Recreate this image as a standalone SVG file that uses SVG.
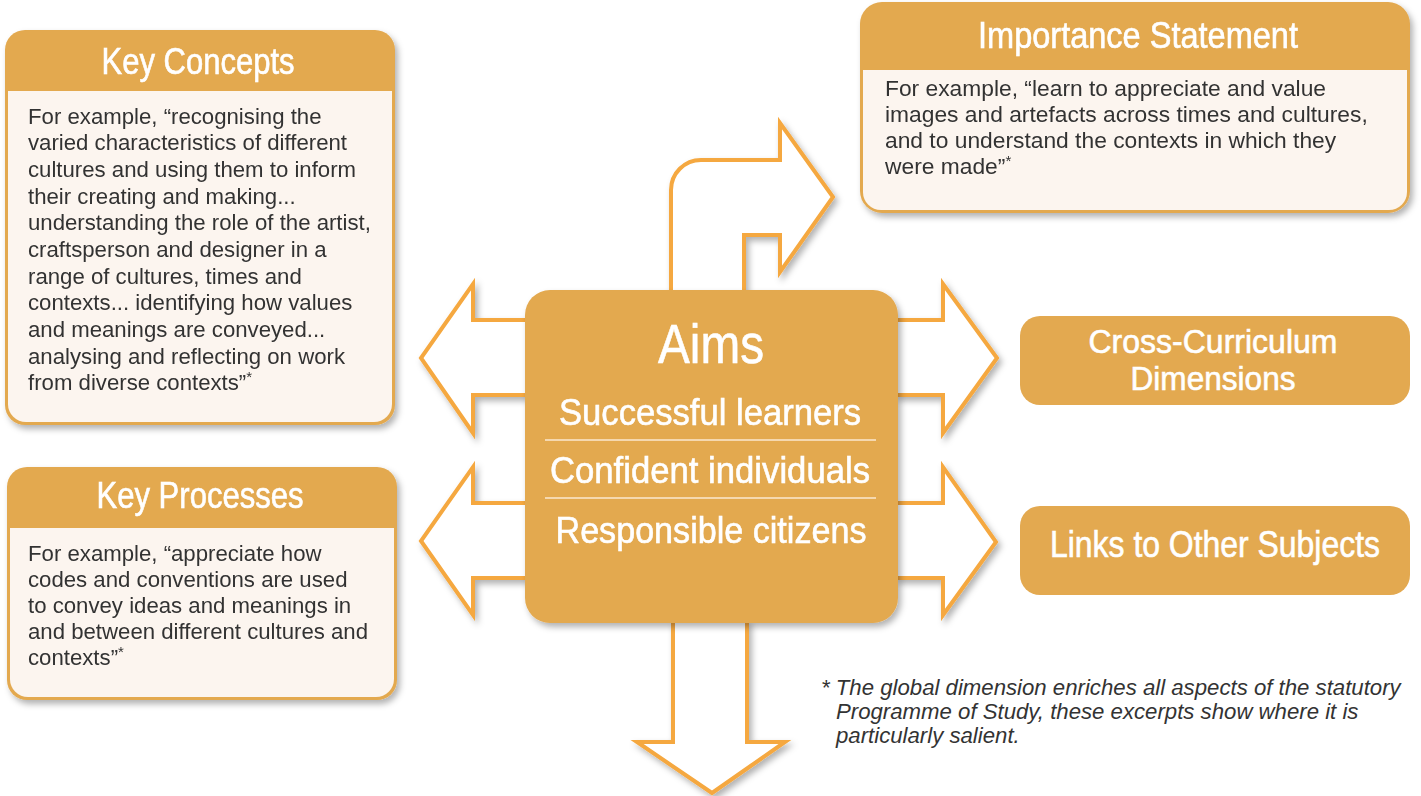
<svg xmlns="http://www.w3.org/2000/svg" width="1421" height="796" viewBox="0 0 1421 796">
  <defs>
    <filter id="shadow" x="-20%" y="-20%" width="140%" height="140%">
      <feDropShadow dx="3" dy="4" stdDeviation="3" flood-color="#000" flood-opacity="0.3"/>
    </filter>
    <style>
      .hdr { fill: #e3a950; }
      .body { fill: #fcf5ef; }
      .arrow { fill: #ffffff; stroke: #f5a83f; stroke-width: 4; stroke-linejoin: miter; }
      .title { font-family: "Liberation Sans", Arial, sans-serif; fill: #ffffff; stroke: #ffffff; stroke-width: 0.6; text-anchor: middle; }
      .txt { font-family: "Liberation Sans", Arial, sans-serif; font-size: 22.2px; fill: #333333; }
      .txt2 { font-family: "Liberation Sans", Arial, sans-serif; font-size: 22.8px; fill: #333333; }
      .sup { font-size: 15px; }
      .foot { font-family: "Liberation Sans", Arial, sans-serif; font-size: 22.2px; font-style: italic; fill: #333333; }
      .rule { stroke: #fbe9cf; stroke-width: 1.5; }
    </style>
  </defs>

  <g id="connectors" filter="url(#shadow)">
    <path class="arrow" d="M 528 320 H 473 V 284 L 421 358 L 473 433 V 395 H 528"/>
    <path class="arrow" d="M 528 503 H 473 V 467 L 421 541 L 473 615 V 578 H 528"/>
    <path class="arrow" d="M 895 320 H 943 V 284 L 997 358 L 943 433 V 395 H 895"/>
    <path class="arrow" d="M 895 503 H 943 V 467 L 996 542 L 943 615 V 578 H 895"/>
    <path class="arrow" d="M 671 293 V 190 A 30 30 0 0 1 701 160 H 780 V 123 L 833 197 L 780 272 V 235 H 744 V 293"/>
    <path class="arrow" d="M 673 620 V 742 H 637 L 712 793 L 785 742 H 747 V 620"/>
  </g>

  <g id="key-concepts" filter="url(#shadow)">
    <rect class="hdr" x="5" y="30" width="390" height="395" rx="20"/>
    <path class="body" d="M 8 91 H 392 V 404 A 18 18 0 0 1 374 422 H 26 A 18 18 0 0 1 8 404 Z"/>
    <text class="title" x="198" y="74" font-size="36" textLength="193" lengthAdjust="spacingAndGlyphs">Key Concepts</text>
    <text class="txt">
      <tspan x="28" y="124">For example, “recognising the</tspan>
      <tspan x="28" y="150">varied characteristics of different</tspan>
      <tspan x="28" y="177">cultures and using them to inform</tspan>
      <tspan x="28" y="204">their creating and making...</tspan>
      <tspan x="28" y="230">understanding the role of the artist,</tspan>
      <tspan x="28" y="257">craftsperson and designer in a</tspan>
      <tspan x="28" y="284">range of cultures, times and</tspan>
      <tspan x="28" y="310">contexts... identifying how values</tspan>
      <tspan x="28" y="337">and meanings are conveyed...</tspan>
      <tspan x="28" y="364">analysing and reflecting on work</tspan>
      <tspan x="28" y="390">from diverse contexts”<tspan class="sup" dy="-8">*</tspan></tspan>
    </text>
  </g>

  <g id="key-processes" filter="url(#shadow)">
    <rect class="hdr" x="7" y="467" width="390" height="233" rx="20"/>
    <path class="body" d="M 10 528 H 394 V 679 A 18 18 0 0 1 376 697 H 28 A 18 18 0 0 1 10 679 Z"/>
    <text class="title" x="200" y="508" font-size="36" textLength="207" lengthAdjust="spacingAndGlyphs">Key Processes</text>
    <text class="txt">
      <tspan x="28" y="561">For example, “appreciate how</tspan>
      <tspan x="28" y="587">codes and conventions are used</tspan>
      <tspan x="28" y="613">to convey ideas and meanings in</tspan>
      <tspan x="28" y="639">and between different cultures and</tspan>
      <tspan x="28" y="665">contexts”<tspan class="sup" dy="-8">*</tspan></tspan>
    </text>
  </g>

  <g id="importance-statement" filter="url(#shadow)">
    <rect class="hdr" x="860" y="2" width="550" height="211" rx="22"/>
    <path class="body" d="M 863 70 H 1407 V 192 A 18 18 0 0 1 1389 210 H 881 A 18 18 0 0 1 863 192 Z"/>
    <text class="title" x="1138" y="48" font-size="36" textLength="320" lengthAdjust="spacingAndGlyphs">Importance Statement</text>
    <text class="txt2">
      <tspan x="885" y="96">For example, “learn to appreciate and value</tspan>
      <tspan x="885" y="122">images and artefacts across times and cultures,</tspan>
      <tspan x="885" y="148">and to understand the contexts in which they</tspan>
      <tspan x="885" y="174">were made”<tspan class="sup" dy="-8">*</tspan></tspan>
    </text>
  </g>

  <g id="aims" filter="url(#shadow)">
    <rect class="hdr" x="525" y="290" width="373" height="333" rx="25"/>
    <text class="title" x="711" y="363" font-size="56" textLength="106" lengthAdjust="spacingAndGlyphs">Aims</text>
    <text class="title" x="710" y="425" font-size="37" textLength="302" lengthAdjust="spacingAndGlyphs">Successful learners</text>
    <line class="rule" x1="545" y1="440" x2="876" y2="440"/>
    <text class="title" x="710" y="483" font-size="37" textLength="320" lengthAdjust="spacingAndGlyphs">Confident individuals</text>
    <line class="rule" x1="545" y1="498" x2="876" y2="498"/>
    <text class="title" x="711" y="543" font-size="37" textLength="311" lengthAdjust="spacingAndGlyphs">Responsible citizens</text>
  </g>

  <g id="cross-curriculum">
    <rect class="hdr" x="1020" y="316" width="390" height="89" rx="20"/>
    <text class="title" x="1213" y="353" font-size="33" textLength="249" lengthAdjust="spacingAndGlyphs">Cross-Curriculum</text>
    <text class="title" x="1213" y="390" font-size="33" textLength="165" lengthAdjust="spacingAndGlyphs">Dimensions</text>
  </g>

  <g id="links-to-other-subjects">
    <rect class="hdr" x="1020" y="506" width="390" height="89" rx="20"/>
    <text class="title" x="1215" y="557" font-size="36" textLength="330" lengthAdjust="spacingAndGlyphs">Links to Other Subjects</text>
  </g>

  <g id="footnote">
    <text class="foot">
      <tspan x="821" y="695">* The global dimension enriches all aspects of the statutory</tspan>
      <tspan x="836" y="719">Programme of Study, these excerpts show where it is</tspan>
      <tspan x="836" y="743">particularly salient.</tspan>
    </text>
  </g>
</svg>
